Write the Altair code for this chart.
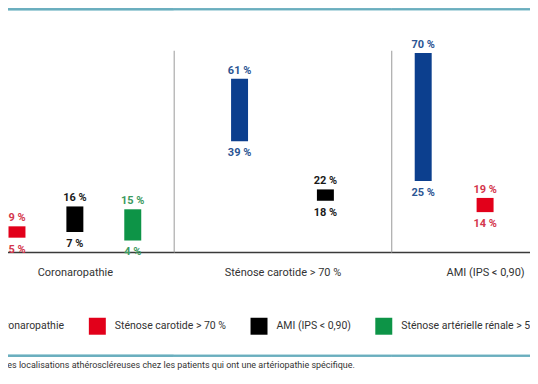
import altair as alt
import pandas as pd

# ---- data ----
GROUPS = ["Coronaropathie", "Sténose carotide > 70 %", "AMI (IPS < 0,90)"]
SERIES = ["Coronaropathie", "Sténose carotide > 70 %", "AMI (IPS < 0,90)",
          "Sténose artérielle rénale > 50 %"]
BAR_GROUP = ["Coronaropathie", "Coronaropathie", "Coronaropathie",
             "Sténose carotide > 70 %", "Sténose carotide > 70 %",
             "AMI (IPS < 0,90)", "AMI (IPS < 0,90)"]
BAR_SERIES = ["Sténose carotide > 70 %", "AMI (IPS < 0,90)", "Sténose artérielle rénale > 50 %",
              "Coronaropathie", "AMI (IPS < 0,90)",
              "Coronaropathie", "Sténose carotide > 70 %"]
LOW = [5, 7, 4, 39, 18, 25, 14]
HIGH = [9, 16, 15, 61, 22, 70, 19]
# series slots shown inside each group (a group never shows its own series)
GROUP_SLOTS = {
    "Coronaropathie": [SERIES[1], SERIES[2], SERIES[3]],
    "Sténose carotide > 70 %": [SERIES[0], SERIES[2]],
    "AMI (IPS < 0,90)": [SERIES[0], SERIES[1], SERIES[3]],
}
CAPTION = ("Prévalence d'autres localisations athéroscléreuses chez les patients "
           "qui ont une artériopathie spécifique.")

# ---- styles ----
BAR_COLORS = ["#0c3f8e", "#e2001a", "#000000", "#0d9447"]
TEXT_COLORS = ["#2b5593", "#d4364c", "#1a1a1a", "#3c9a60"]
TEAL = "#6aaebe"
FONT = "Roboto"
PANEL_W = [198, 218, 188]
PANEL_STEP = [58, 86, 62]
PANEL_H = 202
P_IN = 0.5

df = pd.DataFrame({"group": BAR_GROUP, "series": BAR_SERIES, "low": LOW, "high": HIGH})
df["lo_txt"] = [f"{v} %" for v in LOW]
df["hi_txt"] = [f"{v} %" for v in HIGH]

color = alt.Color("series:N", scale=alt.Scale(domain=SERIES, range=BAR_COLORS),
                  legend=alt.Legend(title=None))
fill = alt.Fill("series:N", scale=alt.Scale(domain=SERIES, range=TEXT_COLORS), legend=None)


def panel(group, width, step):
    slots = GROUP_SLOTS[group]
    n = len(slots)
    p_out = max(0.0, (width / step - n + P_IN) / 2)
    base = alt.Chart(df).transform_filter(alt.datum.group == group)
    x = alt.X("series:N",
              scale=alt.Scale(domain=slots, paddingInner=P_IN, paddingOuter=p_out),
              axis=alt.Axis(title=group, labels=False, ticks=False, grid=False,
                            domainColor="#3a3a3a", domainWidth=1.5,
                            titleFont=FONT, titleFontSize=11, titleFontWeight="normal",
                            titleColor="#333333", titlePadding=15))
    yscale = alt.Scale(domain=[0, 71])
    yaxis = alt.Axis(title=None, labels=False, ticks=False, grid=False,
                     domainColor="#9a9a9a", domainWidth=1)
    bars = base.mark_bar(size=17).encode(
        x=x, y=alt.Y("low:Q", scale=yscale, axis=yaxis, title=None),
        y2="high:Q", color=color)
    top = base.mark_text(baseline="alphabetic", dy=-5, fontWeight="bold", fontSize=11,
                         font=FONT).encode(
        x=x, y=alt.Y("high:Q", scale=yscale, title=None), text="hi_txt:N", fill=fill)
    bottom = base.mark_text(baseline="alphabetic", dy=15, fontWeight="bold", fontSize=11,
                            font=FONT).encode(
        x=x, y=alt.Y("low:Q", scale=yscale, title=None), text="lo_txt:N", fill=fill)
    rule_top = base.mark_rule(color=TEAL, strokeWidth=2).encode(
        x=alt.value(0), x2=alt.value(width), y=alt.value(-41))
    rule_bot = base.mark_rule(color=TEAL, strokeWidth=2).encode(
        x=alt.value(0), x2=alt.value(width), y=alt.value(306))
    return alt.layer(rule_top, rule_bot, bars, top, bottom).properties(
        width=width, height=PANEL_H)


chart = alt.hconcat(*[panel(g, w, s) for g, w, s in zip(GROUPS, PANEL_W, PANEL_STEP)],
                    spacing=0, bounds="flush").properties(
    padding={"left": -69, "top": 0, "right": -50, "bottom": 0},
    title=alt.TitleParams(CAPTION, orient="bottom", anchor="start", frame="group",
                          dx=-37, offset=4, fontSize=9, font=FONT,
                          fontWeight="normal", color="#333333"),
).configure(font=FONT).configure_view(stroke=None).configure_legend(
    orient="none", legendX=-10, legendY=268, direction="horizontal",
    symbolType="square", symbolSize=289, symbolStrokeWidth=0, symbolOpacity=1,
    labelFont=FONT, labelFontSize=10.5, labelColor="#333333", labelOffset=9,
    columnPadding=24, labelLimit=300,
)

chart.save("out.html", embed_options={"renderer": "svg", "actions": False})
